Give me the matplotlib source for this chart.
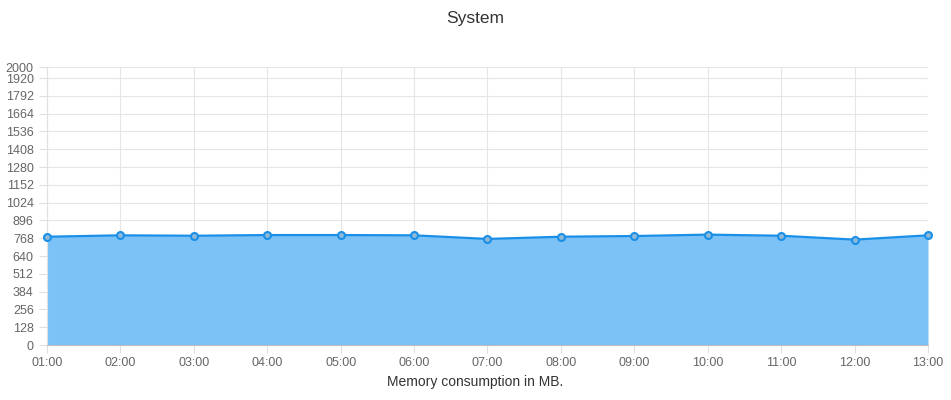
import matplotlib.pyplot as plt

plt.rcParams['font.family'] = ['Liberation Sans', 'DejaVu Sans']

hours = ['01:00', '02:00', '03:00', '04:00', '05:00', '06:00', '07:00',
         '08:00', '09:00', '10:00', '11:00', '12:00', '13:00']
memory_mb = [779, 789, 786, 791, 791, 789, 763, 779, 784, 794, 786, 758, 789]
y_ticks = [0, 128, 256, 384, 512, 640, 768, 896, 1024, 1152, 1280,
           1408, 1536, 1664, 1792, 1920, 2000]

fig = plt.figure(figsize=(9.51, 4.0), dpi=100)
ax = fig.add_axes([47 / 951, 55 / 400, 881 / 951, 278 / 400])

x = list(range(len(hours)))
ax.fill_between(x, memory_mb, 0, color='#7cc2f7', linewidth=0, zorder=2)
ax.plot(x, memory_mb, color='#1a8fe8', linewidth=1.6, zorder=3,
        marker='o', markersize=5, markerfacecolor='#8fb9d6',
        markeredgecolor='#1a8fe8', markeredgewidth=1.5, clip_on=False)

ax.set_xlim(0, len(hours) - 1)
ax.set_ylim(0, 2000)
ax.set_xticks(x)
ax.set_xticklabels(hours)
ax.set_yticks(y_ticks)

ax.grid(True, color='#e6e6e6', linewidth=0.8, zorder=0)
ax.set_axisbelow(True)
for side in ['top', 'right']:
    ax.spines[side].set_visible(False)
ax.spines['left'].set_color('#e0e0e0')
ax.spines['bottom'].set_color('#bdbdbd')
ax.tick_params(axis='both', colors='#e0e0e0', labelcolor='#666666',
               labelsize=9, length=6, width=0.8)
ax.tick_params(axis='x', pad=3)

fig.text(0.5, 1 - 19 / 400, 'System', ha='center', va='center',
         fontsize=12.5, color='#333333')
fig.text(0.5, 1 - 382 / 400, 'Memory consumption in MB.', ha='center',
         va='center', fontsize=10, color='#333333')

fig.savefig('out.png', dpi=100)
